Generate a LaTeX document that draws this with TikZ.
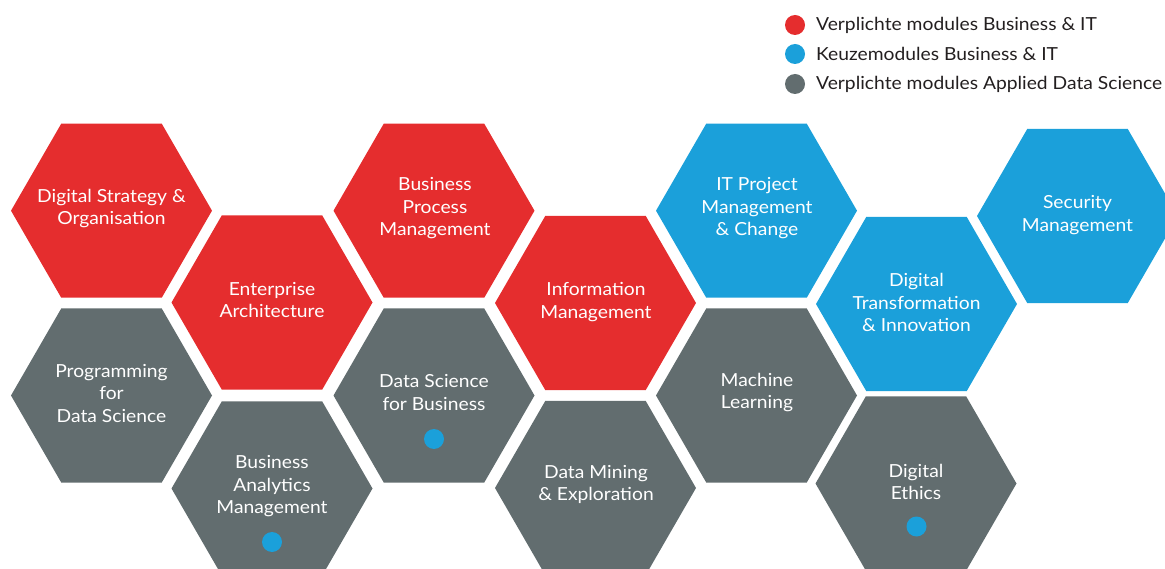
\documentclass[tikz,border=0pt]{standalone}
\usepackage{fontspec}
\setmainfont{Lato}[FakeStretch=1.07]
\usetikzlibrary{shapes.geometric}

\definecolor{modred}{HTML}{E52D2E}
\definecolor{modblue}{HTML}{1BA0DA}
\definecolor{modgray}{HTML}{626D6F}
\definecolor{legendtext}{HTML}{231F20}

\begin{document}
\begin{tikzpicture}[x=1pt,y=-1pt,
  hexcell/.style={regular polygon, regular polygon sides=6, minimum size=201pt,
    inner sep=0pt, outer sep=0pt, draw=none},
  hexlabel/.style={text=white, align=center, inner sep=0pt,
    font=\fontsize{18}{22.5}\selectfont},
  legenddot/.style={circle, minimum size=20pt, inner sep=0pt, draw=none},
  legendlabel/.style={anchor=west, text=legendtext, inner sep=0pt,
    font=\fontsize{18}{20}\selectfont},
  electivemark/.style={circle, fill=modblue, minimum size=20pt, inner sep=0pt}]

\useasboundingbox (0,0) rectangle (1165,569);
\clip (0,0) rectangle (1165,569);

% legend
\node[legenddot, fill=modred]  (lgred)  at (795,25) {};
\node[legenddot, fill=modblue] (lgblue) at (795,54) {};
\node[legenddot, fill=modgray] (lggray) at (795,84) {};
\node[legendlabel] (lgredtext)  at (816,25) {Verplichte modules Business \& IT};
\node[legendlabel] (lgbluetext) at (816,54) {Keuzemodules Business \& IT};
\node[legendlabel] (lggraytext) at (816,84) {Verplichte modules Applied Data Science};

% honeycomb cells
\node[hexcell, fill=modred]  (dso)  at (111.5,210.7) {};
\node[hexcell, fill=modgray] (pds)  at (111.5,395.5) {};
\node[hexcell, fill=modred]  (ea)   at (272,302.5) {};
\node[hexcell, fill=modgray] (bam)  at (272,488.5) {};
\node[hexcell, fill=modred]  (bpm)  at (434,210.7) {};
\node[hexcell, fill=modgray] (dsb)  at (434,395.5) {};
\node[hexcell, fill=modred]  (im)   at (595.5,303) {};
\node[hexcell, fill=modgray] (dme)  at (595.5,488) {};
\node[hexcell, fill=modblue] (itp)  at (756.5,210.7) {};
\node[hexcell, fill=modgray] (ml)   at (756.5,395.5) {};
\node[hexcell, fill=modblue] (dti)  at (916.5,304) {};
\node[hexcell, fill=modgray] (de)   at (916,483.5) {};
\node[hexcell, fill=modblue] (sm)   at (1077.5,216) {};

% module titles
\node[hexlabel] (dsotext) at (111.5,208.5) {Digital Strategy \&\\Organisation};
\node[hexlabel] (eatext)  at (272,300) {Enterprise\\Architecture};
\node[hexlabel] (bpmtext) at (435,208.5) {Business\\Process\\Management};
\node[hexlabel] (imtext)  at (596,302) {Information\\Management};
\node[hexlabel] (itptext) at (757,208.5) {IT Project\\Management\\\& Change};
\node[hexlabel] (smtext)  at (1077.5,215) {Security\\Management};
\node[hexlabel] (dtitext) at (916.5,302.5) {Digital\\Transformation\\\& Innovation};
\node[hexlabel] (pdstext) at (111.5,393.5) {Programming\\for\\Data Science};
\node[hexlabel] (dsbtext) at (434,392.5) {Data Science\\for Business};
\node[hexlabel] (mltext)  at (757,392.5) {Machine\\Learning};
\node[hexlabel] (bamtext) at (272,486.5) {Business\\Analytics\\Management};
\node[hexlabel] (dmetext) at (596,484.5) {Data Mining\\\& Exploration};
\node[hexlabel] (detext)  at (916,482) {Digital\\Ethics};

% elective markers
\node[electivemark] (dsbmark) at (434,439) {};
\node[electivemark] (bammark) at (272,542) {};
\node[electivemark] (demark)  at (916.5,526.5) {};
\end{tikzpicture}
\end{document}
